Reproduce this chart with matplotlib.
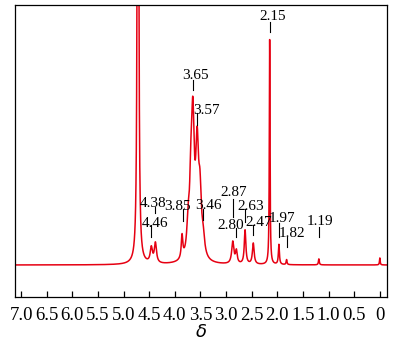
import numpy as np
import matplotlib
matplotlib.use('Agg')
import matplotlib.pyplot as plt

# peak list: shift (ppm), height, half width (ppm)
peak_ppm = [4.72, 4.46, 4.38, 3.86, 3.74, 3.69, 3.65, 3.565, 3.51, 3.45,
            2.87, 2.80, 2.63, 2.47, 2.15, 1.97, 1.82, 1.19, 0.0]
peak_height = [2000, 15, 20, 23, 30, 48, 134, 104, 52, 18,
               22, 12.5, 34, 21, 225, 20, 5, 6, 7]
peak_width = [0.008, 0.025, 0.025, 0.018, 0.03, 0.025, 0.034, 0.035, 0.03, 0.035,
              0.025, 0.02, 0.018, 0.02, 0.008, 0.012, 0.01, 0.01, 0.008]

# labelled shifts
labels = ['4.46', '4.38', '3.85', '3.65', '3.57', '3.46', '2.87', '2.80',
          '2.63', '2.47', '2.15', '1.97', '1.82', '1.19']
# layout of the labels: tick top / bottom, text baseline, text x shift (px)
lab_top = [40, 58.3, 55.7, 185, 151.7, 55.7, 65.7, 36.7, 55.7, 40, 243.3, 41.7, 28.3, 38.3]
lab_bot = [28.3, 51.7, 44.3, 175, 140, 45, 48.3, 28.3, 43.3, 30, 233.3, 27.7, 17.7, 28.3]
lab_text_y = [38, 58, 55.4, 186.4, 151.4, 56.4, 69, 36.4, 55.4, 39, 244.7, 43, 28, 39.7]
lab_dx = [3.3, -2.7, -5.3, 2.4, 10, 5.7, 1, -6, 6, 5, 3, 3.5, 5, 1.5]

xticks = [7.0, 6.5, 6.0, 5.5, 5.0, 4.5, 4.0, 3.5, 3.0, 2.5, 2.0, 1.5, 1.0, 0.5, 0]
xticklabels = ['7.0', '6.5', '6.0', '5.5', '5.0', '4.5', '4.0', '3.5', '3.0',
               '2.5', '2.0', '1.5', '1.0', '0.5', '0']

plt.rcParams['font.family'] = ['Liberation Serif', 'DejaVu Serif']

x = np.linspace(7.12, -0.14, 12000)
y = np.zeros_like(x)
for c, h, w in zip(peak_ppm, peak_height, peak_width):
    y += h * w**2 / ((x - c)**2 + w**2)

fig = plt.figure(figsize=(4.02, 3.5), dpi=100)
ax = fig.add_axes([15/402, 53/350, 372/402, 292/350])
ax.plot(x, y, color='#e60012', linewidth=1.1)

for s, t, b, ty, dx in zip(labels, lab_top, lab_bot, lab_text_y, lab_dx):
    p = float(s)
    ax.plot([p, p], [b, t], color='black', linewidth=0.8)
    ax.annotate(s, xy=(p, ty), xytext=(dx, 0), textcoords='offset pixels',
                ha='center', va='baseline', fontsize=11)

ax.set_xlim(7.12, -0.14)
ax.set_ylim(-32, 260)
ax.set_xticks(xticks)
ax.set_xticklabels(xticklabels, fontsize=13.5)
ax.set_yticks([])
ax.tick_params(axis='x', direction='in', length=4, width=0.9, pad=7)
for sp in ax.spines.values():
    sp.set_linewidth(0.9)
ax.set_xlabel(r'$\delta$', fontsize=13, labelpad=0)
ax.xaxis.label.set_fontstyle('italic')

fig.savefig('out.png', dpi=100)
